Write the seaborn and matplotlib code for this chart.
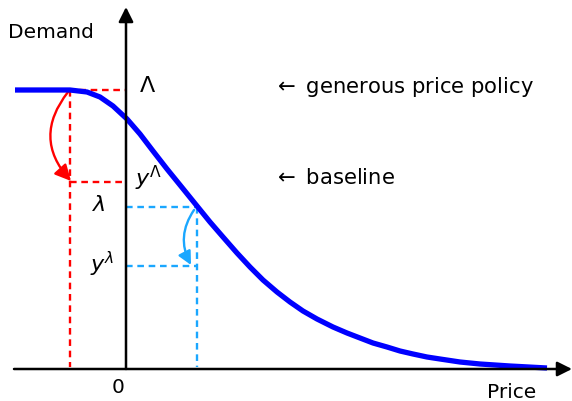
import numpy as np
import matplotlib.pyplot as plt
import seaborn as sns
import pandas as pd
from matplotlib.patches import FancyArrowPatch

sns.set_style("white")
plt.rcParams['font.family'] = ['DejaVu Sans']
plt.rcParams['mathtext.fontset'] = 'dejavusans'
plt.rcParams['text.color'] = 'black'

# demand curve (price, demand), origin at the axes crossing
price = [-111, -56, -39, -26, -13, 1, 14, 27, 41, 54, 71, 84, 97, 111, 124, 137, 151,
         164, 177, 191, 207, 221, 234, 247, 261, 274, 287, 301, 314, 334, 354, 384, 421]
demand = [279, 279, 277, 272, 263, 250, 235, 218, 200, 184, 163, 147, 132, 116, 102,
          89, 77, 67, 58, 50, 42, 36, 31, 26, 22, 18, 15, 12, 10, 7, 5, 3, 1]

# levels
big_lambda = 279      # generous price policy demand
y_big = 187           # y^Lambda
small_lambda = 162    # baseline demand
y_small = 103         # y^lambda
p_generous = -56
p_baseline = 71

df = pd.DataFrame({'Price': price, 'Demand': demand})

fig = plt.figure(figsize=(5.72, 4.02), dpi=100)
ax = fig.add_axes([0, 0, 1, 1])

red = '#ff0000'
cyan = '#1aa7ff'
dash = (0, (2.8, 2.0))
dlw = 1.7

# dashed helper lines
ax.plot([p_generous - 2, 0], [big_lambda, big_lambda], color=red, lw=dlw, ls=dash)
ax.plot([p_generous, p_generous], [big_lambda, 2], color=red, lw=dlw, ls=dash)
ax.plot([p_generous, 0], [y_big, y_big], color=red, lw=dlw, ls=dash)
ax.plot([0, p_baseline], [small_lambda, small_lambda], color=cyan, lw=dlw, ls=dash)
ax.plot([p_baseline, p_baseline], [small_lambda, 2], color=cyan, lw=dlw, ls=dash)
ax.plot([0, p_baseline], [y_small, y_small], color=cyan, lw=dlw, ls=dash)

# axes with arrows
ax.annotate('', xy=(446, 0), xytext=(-112, 0),
            arrowprops=dict(arrowstyle='-|>', color='black', lw=1.8, mutation_scale=22,
                            shrinkA=0, shrinkB=0))
ax.annotate('', xy=(0, 362), xytext=(0, 0),
            arrowprops=dict(arrowstyle='-|>', color='black', lw=1.8, mutation_scale=22,
                            shrinkA=0, shrinkB=0))

sns.lineplot(data=df, x='Price', y='Demand', ax=ax, color='#0000ff', lw=3.8,
             sort=False, legend=False, solid_capstyle='butt', solid_joinstyle='round')
ax.set_xlim(-126, 446)
ax.set_ylim(-32, 370)
ax.axis('off')

# curved arrows
ax.add_patch(FancyArrowPatch((p_generous - 2, big_lambda - 2), (p_generous + 1, y_big + 1),
                             connectionstyle='arc3,rad=0.42', arrowstyle='-|>',
                             mutation_scale=24, color=red, lw=1.7, shrinkA=0, shrinkB=0))
ax.add_patch(FancyArrowPatch((p_baseline - 3, small_lambda - 3), (p_baseline - 6, y_small + 1),
                             connectionstyle='arc3,rad=0.3', arrowstyle='-|>',
                             mutation_scale=20, color=cyan, lw=1.7, shrinkA=0, shrinkB=0))

# labels
fs = 14.5
ax.text(-118, 337, 'Demand', fontsize=fs, ha='left', va='center')
ax.text(386, -23, 'Price', fontsize=fs, ha='center', va='center')
ax.text(-8, -18, '0', fontsize=fs, ha='center', va='center')
ax.text(22, 284, r'$\Lambda$', fontsize=16, ha='center', va='center')
ax.text(-27, 165, r'$\lambda$', fontsize=16, ha='center', va='center')
ax.text(23, 192, r'$y^{\Lambda}$', fontsize=16, ha='center', va='center')
ax.text(-24, 106, r'$y^{\lambda}$', fontsize=16, ha='center', va='center')
ax.text(147, 283, r'$\leftarrow$ generous price policy', fontsize=15.2, ha='left', va='center')
ax.text(147, 192, r'$\leftarrow$ baseline', fontsize=15.2, ha='left', va='center')

fig.savefig('out.png', dpi=100)
